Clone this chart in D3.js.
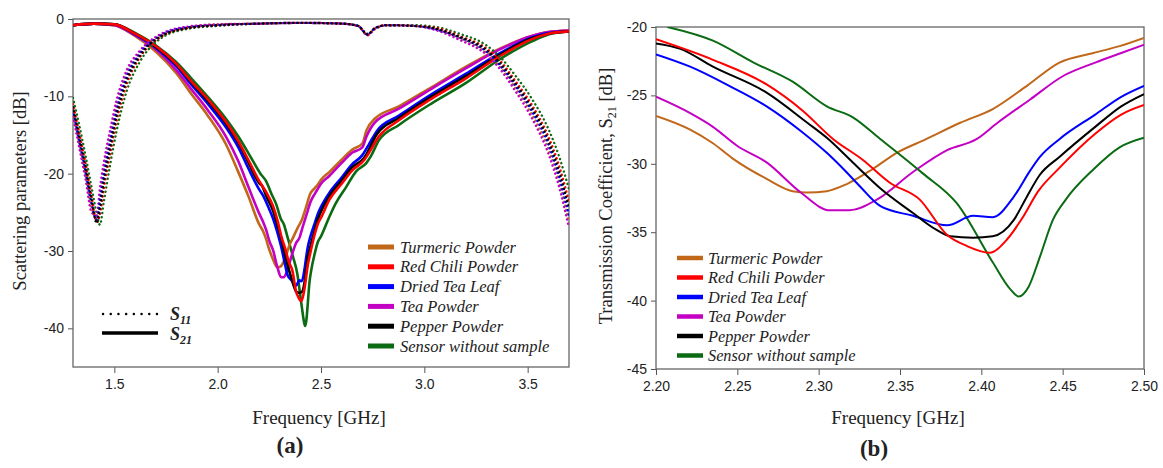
<!DOCTYPE html>
<html>
<head>
<meta charset="utf-8">
<script src="https://cdn.jsdelivr.net/npm/d3@7"></script>
<style>
  body { margin: 0; background: #fff; }
  .tick text { font-family: "Liberation Sans", Arial, sans-serif; font-size: 14px; fill: #222; }
  .tick line { stroke: #555; }
  .serif { font-family: "Liberation Serif", "Times New Roman", serif; fill: #222; }
</style>
</head>
<body>
<div id="chart"></div>
<script>

// series names + colors (same order everywhere)
var names = ["Turmeric Powder", "Red Chili Powder", "Dried Tea Leaf", "Tea Powder", "Pepper Powder", "Sensor without sample"];
var colors = ["#c0671a", "#ff0000", "#0000ff", "#c400c4", "#000000", "#0b6b12"];

// S21 between 2.2 and 2.5 GHz (panel b, also the middle part of panel a)
var zTurmeric = [[2.2,-26.5],[2.221,-27.5],[2.235,-28.5],[2.247,-29.6],[2.268,-31.1],[2.284,-32.0],[2.293,-32.1],[2.305,-32.0],[2.317,-31.5],[2.333,-30.4],[2.348,-29.2],[2.366,-28.2],[2.387,-27.0],[2.407,-26.0],[2.428,-24.3],[2.448,-22.6],[2.469,-21.9],[2.485,-21.4],[2.5,-20.8]];
var zRedChili = [[2.2,-20.9],[2.235,-22.4],[2.268,-24.2],[2.29,-26.1],[2.309,-28.2],[2.327,-29.7],[2.344,-31.4],[2.362,-32.6],[2.379,-35.2],[2.391,-36.0],[2.405,-36.5],[2.416,-35.5],[2.425,-34.0],[2.435,-32.0],[2.448,-30.3],[2.47,-27.8],[2.486,-26.4],[2.5,-25.7]];
var zDriedTea = [[2.2,-22.0],[2.221,-22.9],[2.245,-24.3],[2.268,-25.8],[2.289,-27.6],[2.305,-29.2],[2.317,-30.6],[2.325,-31.6],[2.338,-33.1],[2.358,-33.8],[2.379,-34.5],[2.395,-33.8],[2.407,-33.9],[2.42,-32.4],[2.43,-30.5],[2.436,-29.5],[2.448,-28.2],[2.47,-26.4],[2.486,-25.1],[2.5,-24.3]];
var zTeaPowder = [[2.2,-25.1],[2.221,-26.3],[2.235,-27.3],[2.25,-28.7],[2.268,-29.9],[2.289,-32.1],[2.307,-33.4],[2.319,-33.4],[2.336,-32.6],[2.358,-30.6],[2.379,-29.0],[2.397,-28.2],[2.41,-27.0],[2.43,-25.3],[2.45,-23.6],[2.47,-22.6],[2.486,-21.9],[2.5,-21.3]];
var zPepper = [[2.2,-21.2],[2.215,-21.6],[2.235,-22.9],[2.268,-24.8],[2.293,-27.0],[2.305,-28.1],[2.321,-29.9],[2.338,-31.8],[2.358,-33.6],[2.372,-34.8],[2.381,-35.3],[2.395,-35.4],[2.407,-35.3],[2.42,-34.1],[2.428,-32.4],[2.436,-30.8],[2.448,-29.5],[2.47,-27.3],[2.486,-25.8],[2.5,-24.9]];
var zSensor = [[2.207,-20.0],[2.235,-21.0],[2.26,-22.6],[2.284,-24.0],[2.305,-25.8],[2.321,-26.6],[2.338,-28.2],[2.364,-30.7],[2.385,-32.9],[2.407,-37.2],[2.418,-39.2],[2.423,-39.7],[2.429,-39.0],[2.436,-36.8],[2.444,-34.1],[2.452,-32.6],[2.469,-30.4],[2.485,-28.8],[2.5,-28.1]];

// S21 below 2.2 GHz (panel a)
var lowTurmeric = [[1.3,-0.8],[1.4,-0.6],[1.5,-0.8],[1.6,-2.2],[1.7,-4.2],[1.8,-7.0],[1.87,-9.6],[1.95,-12.4],[2.04,-16.2],[2.1,-19.8],[2.15,-23.0]];
var lowRedChili = [[1.3,-0.8],[1.4,-0.6],[1.5,-0.7],[1.6,-1.9],[1.7,-3.5],[1.8,-5.8],[1.87,-8.0],[1.95,-10.3],[2.04,-13.3],[2.1,-15.8],[2.15,-18.3]];
var lowDriedTea = [[1.3,-0.8],[1.4,-0.6],[1.5,-0.7],[1.6,-2.0],[1.7,-3.7],[1.8,-6.1],[1.87,-8.4],[1.95,-10.9],[2.04,-14.0],[2.1,-16.6],[2.15,-19.4]];
var lowTeaPowder = [[1.3,-0.8],[1.4,-0.6],[1.5,-0.8],[1.6,-2.1],[1.7,-3.9],[1.8,-6.6],[1.87,-9.0],[1.95,-11.7],[2.04,-15.2],[2.1,-18.4],[2.15,-21.8]];
var lowPepper = [[1.3,-0.8],[1.4,-0.6],[1.5,-0.7],[1.6,-1.9],[1.7,-3.6],[1.8,-5.9],[1.87,-8.1],[1.95,-10.5],[2.04,-13.5],[2.1,-16.0],[2.15,-18.6]];
var lowSensor = [[1.3,-0.8],[1.4,-0.6],[1.5,-0.7],[1.6,-1.8],[1.7,-3.4],[1.8,-5.6],[1.87,-7.6],[1.95,-10.0],[2.04,-12.9],[2.1,-15.2],[2.15,-17.4]];

// S21 above 2.5 GHz (panel a)
var highTurmeric = [[2.54,-19.8],[2.6,-18.2],[2.65,-16.9],[2.7,-16.1],[2.72,-14.4],[2.76,-12.9],[2.877,-11.3],[3.036,-8.8],[3.2,-6.2],[3.36,-3.9],[3.52,-2.2],[3.6,-1.7],[3.7,-1.5]];
var highRedChili = [[2.54,-23.4],[2.6,-21.3],[2.65,-19.6],[2.71,-18.2],[2.73,-17.4],[2.78,-15.2],[2.877,-13.1],[3.036,-10.3],[3.2,-7.7],[3.36,-4.9],[3.52,-2.6],[3.6,-1.9],[3.7,-1.6]];
var highDriedTea = [[2.54,-22.5],[2.6,-20.5],[2.65,-18.8],[2.7,-17.6],[2.73,-16.3],[2.77,-14.5],[2.877,-12.5],[3.036,-9.7],[3.2,-7.1],[3.36,-4.5],[3.52,-2.4],[3.6,-1.8],[3.7,-1.6]];
var highTeaPowder = [[2.54,-20.3],[2.6,-18.6],[2.65,-17.3],[2.7,-16.6],[2.72,-15.2],[2.76,-13.4],[2.877,-11.6],[3.036,-9.0],[3.2,-6.4],[3.36,-4.0],[3.52,-2.2],[3.6,-1.7],[3.7,-1.5]];
var highPepper = [[2.54,-22.9],[2.6,-20.9],[2.65,-19.2],[2.71,-17.9],[2.73,-17.0],[2.77,-14.9],[2.877,-12.8],[3.036,-10.0],[3.2,-7.4],[3.36,-4.7],[3.52,-2.5],[3.6,-1.9],[3.7,-1.6]];
var highSensor = [[2.54,-25.6],[2.57,-23.9],[2.62,-21.8],[2.67,-19.7],[2.72,-18.6],[2.74,-17.8],[2.78,-15.7],[2.877,-13.7],[3.036,-10.9],[3.2,-8.3],[3.36,-5.3],[3.52,-2.9],[3.6,-2.0],[3.7,-1.6]];

// S11 (dotted, panel a): common frequencies, one value list per series
var s11Freq = [1.30,1.33,1.36,1.39,1.415,1.43,1.45,1.48,1.51,1.56,1.62,1.72,1.85,2.0,2.2,2.4,2.6,2.68,2.725,2.76,2.82,2.95,3.05,3.17,3.3,3.37,3.44,3.52,3.6,3.65,3.7];
var s11Turmeric = [-12.2,-16.1,-20.1,-24.4,-25.9,-22.7,-19.2,-15.0,-11.2,-7.0,-4.4,-2.1,-1.1,-0.7,-0.6,-0.5,-0.6,-0.9,-2.1,-1.3,-0.8,-0.9,-1.3,-2.5,-4.4,-6.3,-8.9,-12.3,-16.8,-20.8,-26.2];
var s11RedChili = [-11.0,-14.7,-18.6,-22.9,-26.2,-25.3,-21.8,-17.4,-13.3,-8.4,-5.1,-2.4,-1.2,-0.8,-0.6,-0.5,-0.6,-0.9,-2.0,-1.2,-0.8,-0.9,-1.1,-2.2,-3.8,-5.5,-8.0,-11.1,-15.2,-18.8,-23.6];
var s11DriedTea = [-11.8,-15.7,-19.6,-23.9,-26.0,-23.6,-20.0,-15.8,-11.9,-7.4,-4.6,-2.2,-1.1,-0.8,-0.6,-0.5,-0.6,-0.9,-2.0,-1.2,-0.8,-0.9,-1.3,-2.4,-4.2,-6.1,-8.6,-11.9,-16.2,-20.2,-25.4];
var s11TeaPowder = [-12.6,-16.6,-20.6,-25.0,-25.4,-21.9,-18.4,-14.3,-10.6,-6.6,-4.2,-2.0,-1.0,-0.7,-0.6,-0.5,-0.6,-0.9,-2.1,-1.3,-0.8,-0.9,-1.4,-2.7,-4.6,-6.6,-9.3,-12.8,-17.4,-21.5,-27.0];
var s11Pepper = [-11.4,-15.2,-19.1,-23.4,-26.4,-24.5,-20.9,-16.6,-12.6,-7.9,-4.9,-2.3,-1.2,-0.8,-0.6,-0.5,-0.6,-0.9,-2.0,-1.2,-0.8,-0.9,-1.2,-2.3,-4.0,-5.8,-8.3,-11.5,-15.7,-19.5,-24.5];
var s11Sensor = [-10.2,-13.7,-17.6,-21.8,-25.2,-26.6,-23.5,-18.8,-14.6,-9.3,-5.7,-2.6,-1.3,-0.9,-0.6,-0.5,-0.6,-0.9,-1.9,-1.3,-0.8,-0.8,-1.0,-1.9,-3.4,-5.0,-7.3,-10.3,-14.2,-17.6,-22.0];

var zoomSets = [zTurmeric, zRedChili, zDriedTea, zTeaPowder, zPepper, zSensor];
var lowSets = [lowTurmeric, lowRedChili, lowDriedTea, lowTeaPowder, lowPepper, lowSensor];
var highSets = [highTurmeric, highRedChili, highDriedTea, highTeaPowder, highPepper, highSensor];
var s11Sets = [s11Turmeric, s11RedChili, s11DriedTea, s11TeaPowder, s11Pepper, s11Sensor];

var fmtPlain = function(d){ return String(d); };   // keep a hyphen minus like the original

var svg = d3.select("#chart")
  .append("svg")
    .attr("width", 1163)
    .attr("height", 468);

// draws the box, the ticks and the clip for one panel
function frame(id, x, y, xTicks, yTicks, xFmt, xPad) {
  var g = svg.append("g");
  var x0 = x.range()[0], x1 = x.range()[1], y0 = y.range()[1], y1 = y.range()[0];

  svg.append("clipPath").attr("id", id)
    .append("rect").attr("x", x0).attr("y", y0).attr("width", x1 - x0).attr("height", y1 - y0);

  g.append("g")
    .attr("transform", "translate(0," + y1 + ")")
    .call(d3.axisBottom(x).tickValues(xTicks).tickFormat(xFmt).tickSize(6).tickPadding(xPad))
    .call(function(a){ a.select(".domain").remove(); });

  g.append("g")
    .attr("transform", "translate(" + x0 + ",0)")
    .call(d3.axisLeft(y).tickValues(yTicks).tickFormat(fmtPlain).tickSize(5).tickPadding(4))
    .call(function(a){ a.select(".domain").remove(); });

  g.append("rect")
    .attr("x", x0).attr("y", y0).attr("width", x1 - x0).attr("height", y1 - y0)
    .attr("fill", "none").attr("stroke", "#666").attr("stroke-width", 1.3);
  return g;
}

// ---------- panel (a) ----------
var xA = d3.scaleLinear().domain([1.3, 3.7]).range([73, 569]);
var yA = d3.scaleLinear().domain([-45, 0]).range([367, 19]);
frame("clipA", xA, yA, [1.5, 2.0, 2.5, 3.0, 3.5], [0, -10, -20, -30, -40], d3.format(".1f"), 6);

var lineA = d3.line()
  .x(function(d){ return xA(d[0]); })
  .y(function(d){ return yA(d[1]); })
  .curve(d3.curveMonotoneX);

var plotA = svg.append("g").attr("clip-path", "url(#clipA)");

// S21 solid
[5, 0, 3, 2, 4, 1].forEach(function(i){
  var pts = lowSets[i].concat(zoomSets[i], highSets[i]);
  plotA.append("path")
    .attr("d", lineA(pts))
    .attr("fill", "none")
    .attr("stroke", colors[i])
    .attr("stroke-width", 2.6);
});

// S11 dotted
[5, 0, 3, 2, 1, 4].forEach(function(i){
  var pts = s11Freq.map(function(f, k){ return [f, s11Sets[i][k]]; });
  plotA.append("path")
    .attr("d", lineA(pts))
    .attr("fill", "none")
    .attr("stroke", colors[i])
    .attr("stroke-width", 2.4)
    .attr("stroke-linecap", "round")
    .attr("stroke-dasharray", "0.1,4.2");
});

// S11 / S21 key
svg.append("line").attr("x1", 103).attr("x2", 157).attr("y1", 314).attr("y2", 314)
  .attr("stroke", "#000").attr("stroke-width", 2.4).attr("stroke-linecap", "round").attr("stroke-dasharray", "0.1,7.6");
svg.append("line").attr("x1", 102).attr("x2", 158).attr("y1", 333).attr("y2", 333)
  .attr("stroke", "#000").attr("stroke-width", 3.5);
[["11", 320], ["21", 340]].forEach(function(s){
  var t = svg.append("text").attr("class", "serif")
    .attr("x", 170).attr("y", s[1])
    .attr("font-size", "18px").attr("font-weight", "bold").attr("font-style", "italic");
  t.append("tspan").text("S");
  t.append("tspan").attr("font-size", "12px").attr("dy", 4).text(s[0]);
});

// series legend (a)
names.forEach(function(n, i){
  var yy = 247 + i * 19.8;
  svg.append("line").attr("x1", 368).attr("x2", 394).attr("y1", yy).attr("y2", yy)
    .attr("stroke", colors[i]).attr("stroke-width", 5);
  svg.append("text").attr("class", "serif")
    .attr("x", 400).attr("y", yy + 5.5)
    .attr("font-size", "16.5px").attr("font-style", "italic")
    .text(n);
});

svg.append("text").attr("class", "serif")
  .attr("transform", "translate(26,191) rotate(-90)")
  .attr("text-anchor", "middle").attr("font-size", "18.5px")
  .text("Scattering parameters [dB]");
svg.append("text").attr("class", "serif")
  .attr("x", 319).attr("y", 424).attr("text-anchor", "middle").attr("font-size", "19px")
  .text("Frequency [GHz]");
svg.append("text").attr("class", "serif")
  .attr("x", 290).attr("y", 453).attr("text-anchor", "middle")
  .attr("font-size", "23px").attr("font-weight", "bold")
  .text("(a)");

// ---------- panel (b) ----------
var xB = d3.scaleLinear().domain([2.2, 2.5]).range([656, 1144]);
var yB = d3.scaleLinear().domain([-45, -20]).range([369, 27]);
frame("clipB", xB, yB, [2.2, 2.25, 2.3, 2.35, 2.4, 2.45, 2.5], [-20, -25, -30, -35, -40, -45], d3.format(".2f"), 6);

var lineB = d3.line()
  .x(function(d){ return xB(d[0]); })
  .y(function(d){ return yB(d[1]); })
  .curve(d3.curveMonotoneX);

var plotB = svg.append("g").attr("clip-path", "url(#clipB)");
[0, 3, 5, 2, 4, 1].forEach(function(i){
  plotB.append("path")
    .attr("d", lineB(zoomSets[i]))
    .attr("fill", "none")
    .attr("stroke", colors[i])
    .attr("stroke-width", 2);
});

// series legend (b)
names.forEach(function(n, i){
  var yy = 258 + i * 19.5;
  svg.append("line").attr("x1", 677).attr("x2", 703).attr("y1", yy).attr("y2", yy)
    .attr("stroke", colors[i]).attr("stroke-width", 4.5);
  svg.append("text").attr("class", "serif")
    .attr("x", 708).attr("y", yy + 5.5)
    .attr("font-size", "16.3px").attr("font-style", "italic")
    .text(n);
});

var yt = svg.append("text").attr("class", "serif")
  .attr("transform", "translate(612,196) rotate(-90)")
  .attr("text-anchor", "middle").attr("font-size", "18.5px");
yt.append("tspan").text("Transmission Coefficient, S");
yt.append("tspan").attr("font-size", "12px").attr("dy", 4).text("21");
yt.append("tspan").attr("dy", -4).text(" [dB]");

svg.append("text").attr("class", "serif")
  .attr("x", 898).attr("y", 424).attr("text-anchor", "middle").attr("font-size", "19px")
  .text("Frequency [GHz]");
svg.append("text").attr("class", "serif")
  .attr("x", 874).attr("y", 456).attr("text-anchor", "middle")
  .attr("font-size", "23px").attr("font-weight", "bold")
  .text("(b)");

</script>
</body>
</html>
